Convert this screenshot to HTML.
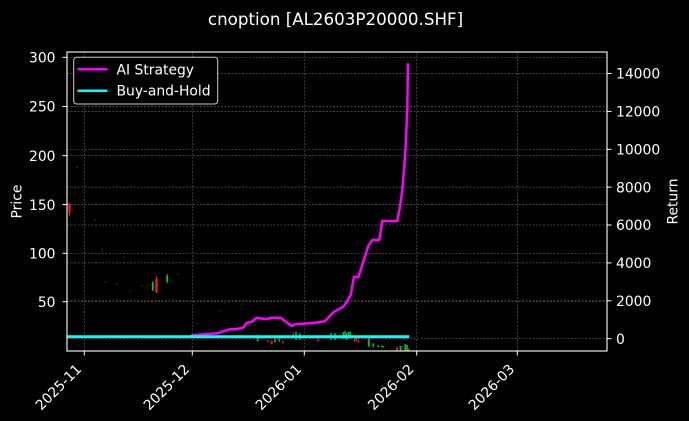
<!DOCTYPE html>
<html>
<head>
<meta charset="utf-8">
<style>
  html, body { margin:0; padding:0; background:#000; }
  svg { display:block; }
  text { font-family: "DejaVu Sans", "Liberation Sans", sans-serif; fill:#fff; }
</style>
</head>
<body>
<svg width="689" height="421" viewBox="0 0 689 421" xmlns="http://www.w3.org/2000/svg">
  <rect x="0" y="0" width="689" height="421" fill="#000"/>

  <!-- title -->
  <text x="335.5" y="25" font-size="16.7" text-anchor="middle">cnoption [AL2603P20000.SHF]</text>

  <!-- grid -->
  <g stroke="#5a5a5a" stroke-width="0.7" stroke-dasharray="2 1.5" fill="none">
    <line x1="84.3" y1="52" x2="84.3" y2="351"/>
    <line x1="192.3" y1="52" x2="192.3" y2="351"/>
    <line x1="304.3" y1="52" x2="304.3" y2="351"/>
    <line x1="416.7" y1="52" x2="416.7" y2="351"/>
    <line x1="517.3" y1="52" x2="517.3" y2="351"/>
    <line x1="67" y1="57.3" x2="607" y2="57.3"/>
    <line x1="67" y1="106.5" x2="607" y2="106.5"/>
    <line x1="67" y1="155.7" x2="607" y2="155.7"/>
    <line x1="67" y1="204.6" x2="607" y2="204.6"/>
    <line x1="67" y1="253.3" x2="607" y2="253.3"/>
    <line x1="67" y1="301.7" x2="607" y2="301.7"/>
    <line x1="67" y1="73.5" x2="607" y2="73.5"/>
    <line x1="67" y1="111.4" x2="607" y2="111.4"/>
    <line x1="67" y1="149.3" x2="607" y2="149.3"/>
    <line x1="67" y1="187.1" x2="607" y2="187.1"/>
    <line x1="67" y1="225" x2="607" y2="225"/>
    <line x1="67" y1="262.9" x2="607" y2="262.9"/>
    <line x1="67" y1="300.8" x2="607" y2="300.8"/>
    <line x1="67" y1="338.7" x2="607" y2="338.7"/>
  </g>

  <!-- dim candles -->
  <g fill="#4a0e0e">
    <rect x="76" y="166.5" width="2" height="1.5"/>
    <rect x="94" y="219.3" width="2" height="1.5"/>
    <rect x="119.5" y="224.3" width="2" height="1.5"/>
    <rect x="101" y="248.3" width="2" height="1.5"/>
    <rect x="123" y="256" width="2" height="1.5"/>
    <rect x="104.5" y="281.5" width="2" height="1.5"/>
    <rect x="116" y="283.5" width="2" height="1.5"/>
    <rect x="129.5" y="290.3" width="2" height="1.5"/>
    <rect x="141" y="285.3" width="2" height="1.5"/>
    <rect x="148" y="284.3" width="2" height="1.5"/>
    <rect x="170.5" y="281" width="2" height="1.5"/>
    <rect x="177" y="273.5" width="2" height="1.5"/>
    <rect x="224" y="301.5" width="2" height="1.5"/>
    <rect x="241" y="303.5" width="2" height="1.5"/>
    <rect x="219" y="310.3" width="2" height="1.5"/>
    <rect x="195.7" y="322.3" width="2" height="1.5"/>
  </g>

  <!-- bright candles -->
  <g>
    <line x1="69.5" y1="203" x2="69.5" y2="215.5" stroke="#ff1a1a" stroke-width="1"/>
    <rect x="68.4" y="204.5" width="2.2" height="8" fill="#ff1a1a"/>

    <line x1="152.8" y1="281" x2="152.8" y2="291" stroke="#10c030" stroke-width="1"/>
    <rect x="151.8" y="283" width="2" height="7" fill="#10c030"/>

    <line x1="156.5" y1="276.5" x2="156.5" y2="293.2" stroke="#ff1a1a" stroke-width="1"/>
    <rect x="155.3" y="279" width="2.4" height="13" fill="#ff1a1a"/>

    <line x1="167.2" y1="274" x2="167.2" y2="283" stroke="#10c030" stroke-width="1"/>
    <rect x="166.3" y="275.5" width="1.8" height="6" fill="#10c030"/>
  </g>

  <!-- bottom candles -->
  <g stroke-width="1.6">
    <line x1="257.7" y1="335" x2="257.7" y2="341.7" stroke="#10b030"/>
    <line x1="267.7" y1="340" x2="267.7" y2="341.9" stroke="#e01515"/>
    <line x1="271.7" y1="340.5" x2="271.7" y2="344.5" stroke="#e01515" stroke-width="2.2"/>
    <line x1="275" y1="338.3" x2="275" y2="342.7" stroke="#10b030"/>
    <line x1="279.3" y1="338.3" x2="279.3" y2="341.7" stroke="#10b030"/>
    <line x1="282.7" y1="341" x2="282.7" y2="343.3" stroke="#e01515"/>
    <line x1="293.3" y1="332.7" x2="293.3" y2="336" stroke="#e01515"/>
    <line x1="296" y1="331.7" x2="296" y2="340" stroke="#10b030"/>
    <line x1="300" y1="333.3" x2="300" y2="340" stroke="#10b030"/>
    <line x1="318.3" y1="338.3" x2="318.3" y2="341.3" stroke="#e01515" stroke-width="2"/>
    <line x1="331" y1="332.7" x2="331" y2="340" stroke="#10b030"/>
    <line x1="335" y1="333" x2="335" y2="340" stroke="#10b030"/>
    <line x1="343.2" y1="332" x2="343.2" y2="339" stroke="#10b030"/>
    <line x1="345" y1="331" x2="345" y2="339" stroke="#10b030"/>
    <line x1="346.8" y1="333" x2="346.8" y2="340" stroke="#10b030"/>
    <line x1="348.6" y1="331.7" x2="348.6" y2="338.3" stroke="#10b030"/>
    <line x1="350.5" y1="332" x2="350.5" y2="338" stroke="#10b030"/>
    <line x1="354.5" y1="338.3" x2="354.5" y2="341.7" stroke="#e01515"/>
    <line x1="356.2" y1="338" x2="356.2" y2="341" stroke="#e01515"/>
    <line x1="358.4" y1="338" x2="358.4" y2="342.7" stroke="#e01515"/>
    <line x1="368.8" y1="338.3" x2="368.8" y2="346.7" stroke="#10b030" stroke-width="2"/>
    <line x1="373.3" y1="343.3" x2="373.3" y2="347.3" stroke="#10b030"/>
    <line x1="378.3" y1="345" x2="378.3" y2="347.3" stroke="#10b030"/>
    <line x1="381.7" y1="345.5" x2="381.7" y2="347.2" stroke="#10b030"/>
    <line x1="383.5" y1="346" x2="383.5" y2="347.5" stroke="#10b030"/>
    <line x1="397" y1="347.3" x2="397" y2="350.7" stroke="#e01515" stroke-width="2"/>
    <line x1="400.6" y1="346" x2="400.6" y2="350.7" stroke="#10b030" stroke-width="2"/>
    <line x1="405.3" y1="344" x2="405.3" y2="350.7" stroke="#10b030"/>
    <line x1="407.1" y1="345" x2="407.1" y2="350.7" stroke="#10b030"/>
    <line x1="408.6" y1="348.3" x2="408.6" y2="350.7" stroke="#e01515"/>
  </g>

  <!-- AI Strategy line -->
  <polyline fill="none" stroke="#ff00ff" stroke-width="2.5" stroke-linejoin="round"
    points="67,336.7 190,336.7 192.3,335.3 218.3,333.3 221.7,331.7 230,329.3 235,329.3 243.3,327.7 246.7,322.9 251.7,321.7 256.7,317.9 266.7,319.3 271.7,317.7 280.5,317.7 291.7,326 295,324.3 313.3,323 318.3,322.3 325,321.2 333.3,312.3 343.3,306.7 346.7,302 350.7,295 354,276.7 358.3,277.2 368.3,246 372.3,240 379.3,240 382.3,221 397.3,221 400,206.7 402.3,190 404.3,166.7 406,140 407.3,106.7 408,63.3"/>

  <!-- Buy-and-Hold line -->
  <line x1="67" y1="336.7" x2="409.3" y2="336.7" stroke="#00ffff" stroke-width="2.8"/>

  <!-- spines -->
  <rect x="67" y="52" width="540" height="299" fill="none" stroke="#fff" stroke-width="1.1"/>

  <!-- ticks -->
  <g stroke="#fff" stroke-width="1">
    <line x1="62.5" y1="57.3" x2="67" y2="57.3"/>
    <line x1="62.5" y1="106.5" x2="67" y2="106.5"/>
    <line x1="62.5" y1="155.7" x2="67" y2="155.7"/>
    <line x1="62.5" y1="204.6" x2="67" y2="204.6"/>
    <line x1="62.5" y1="253.3" x2="67" y2="253.3"/>
    <line x1="62.5" y1="301.7" x2="67" y2="301.7"/>

    <line x1="607" y1="73.5" x2="611.5" y2="73.5"/>
    <line x1="607" y1="111.4" x2="611.5" y2="111.4"/>
    <line x1="607" y1="149.3" x2="611.5" y2="149.3"/>
    <line x1="607" y1="187.1" x2="611.5" y2="187.1"/>
    <line x1="607" y1="225" x2="611.5" y2="225"/>
    <line x1="607" y1="262.9" x2="611.5" y2="262.9"/>
    <line x1="607" y1="300.8" x2="611.5" y2="300.8"/>
    <line x1="607" y1="338.7" x2="611.5" y2="338.7"/>

    <line x1="84.3" y1="351" x2="84.3" y2="355.5"/>
    <line x1="192.3" y1="351" x2="192.3" y2="355.5"/>
    <line x1="304.3" y1="351" x2="304.3" y2="355.5"/>
    <line x1="416.7" y1="351" x2="416.7" y2="355.5"/>
    <line x1="517.3" y1="351" x2="517.3" y2="355.5"/>
  </g>

  <!-- left tick labels -->
  <g font-size="13.9" text-anchor="end">
    <text x="55.5" y="62.5">300</text>
    <text x="55.5" y="111.7">250</text>
    <text x="55.5" y="160.9">200</text>
    <text x="55.5" y="209.8">150</text>
    <text x="55.5" y="258.5">100</text>
    <text x="55.5" y="306.9">50</text>
  </g>

  <!-- right tick labels -->
  <g font-size="13.9" text-anchor="start">
    <text x="616" y="78.7">14000</text>
    <text x="616" y="116.6">12000</text>
    <text x="616" y="154.5">10000</text>
    <text x="616" y="192.3">8000</text>
    <text x="616" y="230.2">6000</text>
    <text x="616" y="268.1">4000</text>
    <text x="616" y="306">2000</text>
    <text x="616" y="343.9">0</text>
  </g>

  <!-- x tick labels -->
  <g font-size="13.9" text-anchor="end">
    <text x="82.3" y="370" transform="rotate(-45 82.3 370)">2025-11</text>
    <text x="190.3" y="370" transform="rotate(-45 190.3 370)">2025-12</text>
    <text x="302.3" y="370" transform="rotate(-45 302.3 370)">2026-01</text>
    <text x="414.7" y="370" transform="rotate(-45 414.7 370)">2026-02</text>
    <text x="515.3" y="370" transform="rotate(-45 515.3 370)">2026-03</text>
  </g>

  <!-- axis labels -->
  <text x="21.5" y="201.5" font-size="13.9" text-anchor="middle" transform="rotate(-90 21.5 201.5)">Price</text>
  <text x="677.5" y="201.5" font-size="13.9" text-anchor="middle" transform="rotate(-90 677.5 201.5)">Return</text>

  <!-- legend -->
  <rect x="73.7" y="57.3" width="144" height="46.7" rx="3" ry="3" fill="#000" stroke="#cccccc" stroke-width="1"/>
  <line x1="77.5" y1="69.3" x2="107.5" y2="69.3" stroke="#ff00ff" stroke-width="2.5"/>
  <line x1="77.5" y1="90.7" x2="107.5" y2="90.7" stroke="#00ffff" stroke-width="2.5"/>
  <text x="116.5" y="74.3" font-size="13.9">AI Strategy</text>
  <text x="116.5" y="95.7" font-size="13.9">Buy-and-Hold</text>
</svg>
</body>
</html>
